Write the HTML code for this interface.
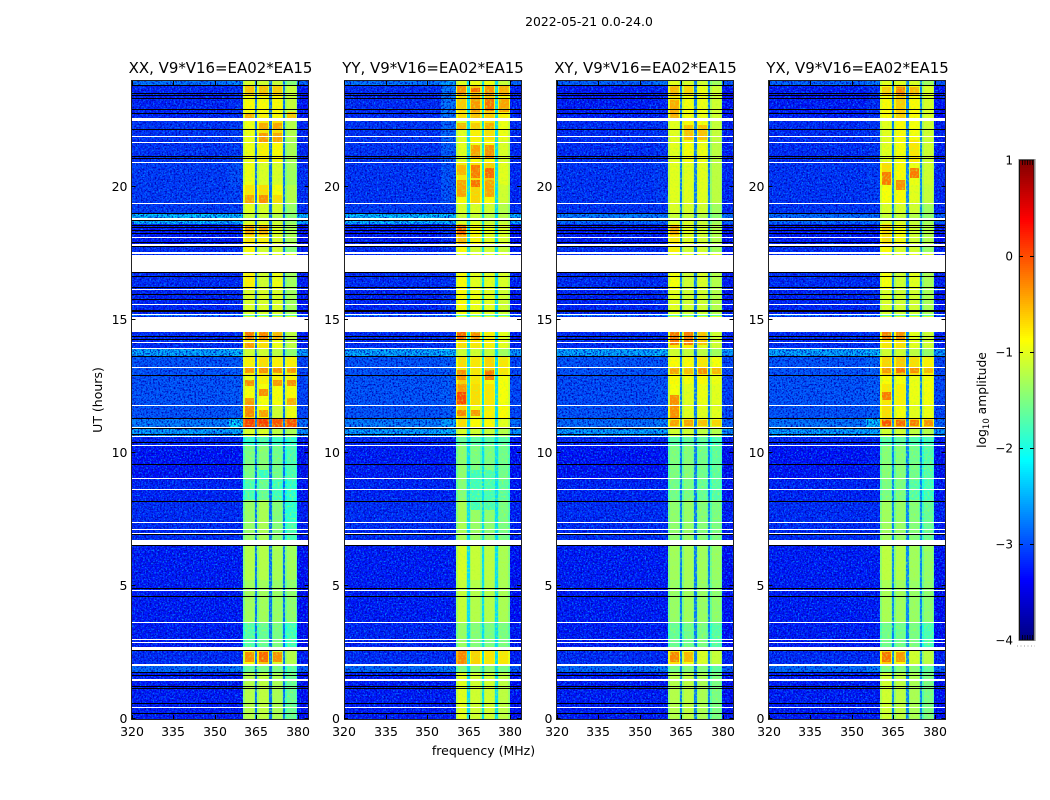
<!DOCTYPE html>
<html lang="en">
<head>
<meta charset="utf-8">
<title>2022-05-21 0.0-24.0</title>
<style>
html,body{margin:0;padding:0;background:#fff;width:1050px;height:800px;overflow:hidden}
svg{display:block}
text{font-family:"DejaVu Sans","Liberation Sans",sans-serif;fill:#000}
</style>
</head>
<body>
<svg id="chart" xmlns="http://www.w3.org/2000/svg" width="1050" height="800" viewBox="0 0 1050 800">
<defs>
<filter id="grain-light" x="0" y="0" width="1" height="1" color-interpolation-filters="sRGB"><feTurbulence type="fractalNoise" baseFrequency="0.62" numOctaves="2" seed="3"/><feColorMatrix type="matrix" values="0 0 0 0 0  0 0 0 0 .5  0 0 0 0 1  3.2 0 0 0 -1.45"/></filter>
<filter id="grain-dark" x="0" y="0" width="1" height="1" color-interpolation-filters="sRGB"><feTurbulence type="fractalNoise" baseFrequency="0.58" numOctaves="2" seed="11"/><feColorMatrix type="matrix" values="0 0 0 0 0  0 0 0 0 0  0 0 0 0 .7  0 3.2 0 0 -1.45"/></filter>
<filter id="grain-band" x="0" y="0" width="1" height="1" color-interpolation-filters="sRGB"><feTurbulence type="fractalNoise" baseFrequency="0.5" numOctaves="2" seed="7"/><feColorMatrix type="matrix" values="0 0 0 0 .7  0 0 0 0 1  0 0 0 0 .2  2 0 0 0 -.95"/></filter>
</defs>
<text x="589" y="26" font-size="12.4" text-anchor="middle">2022-05-21 0.0-24.0</text>
<text x="483.5" y="755" font-size="12.5" text-anchor="middle">frequency (MHz)</text>
<text transform="translate(102 400) rotate(-90)" font-size="12.5" text-anchor="middle">UT (hours)</text>
<text transform="translate(986 400) rotate(-90)" font-size="12.3" text-anchor="middle">log<tspan font-size="8.5" dy="3">10</tspan><tspan dy="-3"> amplitude</tspan></text>
<g id="panels"></g>
<g id="colorbar"></g>
</svg>
<script>
// ---- data ----
const panelNames = ['XX', 'YY', 'XY', 'YX'];
const baselineLabel = 'V9*V16=EA02*EA15';
const freqTicks = [320, 335, 350, 365, 380];
const timeTicks = [0, 5, 10, 15, 20];
const colorbarTicks = [1, 0, -1, -2, -3, -4];
// UT edges of the time segments, bottom to top
const timeEdges = [0,1.77,1.99,2.59,2.71,3.65,5.23,6.54,6.73,8.23,8.98,10.30,10.64,10.98,11.32,11.80,12.59,12.93,13.65,13.91,14.55,15.15,15.23,16.13,16.80,17.48,17.82,18.61,18.72,18.83,18.98,19.40,20.08,20.94,21.77,22.48,23.83,24];
// frequency edges (MHz): background, shoulder, then four bands (edge, centre, edge) split by notches, right edge
const freqEdges = [320,355,360.3,361,364,364.5,365.4,365.9,369.1,369.6,370.5,371,374.1,374.6,375.5,376,379.2,379.8,383.8];
// frequency span (MHz) of the core of each band
const bandStart = [360.8, 365.8, 370.9, 375.9];
const bandEnd = [364.1, 369.2, 374.2, 379.3];
// log10 amplitude per segment: [background, shoulder, A, B, C, D]
const levelsXX = [
[-3.3,-3.3,-1.25,-1.2,-1.3,-1.65],[-2.8,-2.7,-1.65,-1.55,-1.55,-1.75],[-3.2,-3.2,-0.85,-0.55,-1.05,-1.25],[-3.2,-3.2,-1.5,-1.5,-1.5,-1.7],
[-3.3,-3.3,-1.75,-1.65,-1.55,-1.85],[-3.3,-3.3,-1.35,-1.35,-1.4,-1.45],[-3.3,-3.3,-1.25,-1.25,-1.3,-1.35],[-3.3,-3.3,-1.3,-1.3,-1.3,-1.3],
[-3.2,-3.2,-1.4,-1.3,-1.5,-1.8],[-3.25,-3.25,-1.8,-1.65,-1.85,-1.95],[-3.35,-3.35,-1.55,-1.5,-1.6,-1.8],[-3.25,-3.25,-1.95,-1.8,-1.9,-1.95],
[-2.5,-2.4,-1.05,-1.05,-1.2,-1.3],[-2.7,-2.2,0.1,0.1,0,0],[-2.95,-2.9,-0.7,-0.85,-1.1,-0.95],[-2.95,-2.9,-0.9,-0.9,-0.9,-0.85],
[-2.95,-2.9,-0.95,-0.8,-0.8,-0.8],[-2.95,-2.9,-0.8,-0.7,-0.8,-0.8],[-2.45,-2.35,-1.1,-1.1,-1.2,-1.45],[-3.2,-3.2,-0.75,-0.7,-0.95,-1.2],
[-3.2,-3.2,-1,-1,-1,-1],[-2.6,-2.5,-1.8,-1.8,-1.8,-1.8],[-3.25,-3.2,-1.05,-1.05,-1.05,-1.35],[-3.2,-3.2,-0.8,-1.1,-0.95,-1.35],
[-3.2,-3.2,-1,-1,-1,-1],[-3.2,-3.2,-0.85,-1.1,-1.1,-1.5],[-3.3,-3.3,-0.75,-0.8,-1.05,-1.3],[-2.35,-2.35,-1.05,-1.05,-1.15,-1.4],
[-2.35,-2.35,-1.05,-1.05,-1.15,-1.4],[-2.3,-2.3,-1.15,-1.15,-1.25,-1.5],[-3.1,-3.1,-1.0,-1.05,-1.05,-1.4],[-3.1,-3.05,-0.75,-0.7,-0.9,-1.25],
[-3.1,-3.0,-0.95,-1.05,-1.05,-1.35],[-3.15,-3.1,-0.95,-0.8,-0.85,-1.3],[-3.15,-3.1,-0.95,-0.75,-0.7,-1.25],[-3.25,-3.2,-0.85,-0.85,-0.85,-1.15],
[-2.75,-2.65,-1.05,-1.1,-1.15,-1.5]];
const levelsYY = [
[-3.3,-3.3,-1.0,-1.1,-1.1,-1.2],[-2.8,-2.7,-1.55,-1.45,-1.45,-1.55],[-3.2,-3.2,-0.25,-0.65,-0.75,-0.75],[-3.2,-3.2,-1.2,-1.2,-1.2,-1.2],
[-3.25,-3.25,-1.4,-1.5,-1.55,-1.55],[-3.3,-3.3,-1.15,-1.25,-1.25,-1.3],[-3.3,-3.3,-1.05,-1.15,-1.2,-1.3],[-3.3,-3.3,-1.1,-1.1,-1.1,-1.1],
[-3.2,-3.2,-1.3,-1.4,-1.45,-1.55],[-3.25,-3.25,-1.5,-1.6,-1.65,-1.7],[-3.3,-3.3,-1.45,-1.55,-1.55,-1.6],[-3.25,-3.25,-1.65,-1.75,-1.75,-1.75],
[-2.5,-2.4,-1.05,-1.1,-1.15,-1.25],[-2.7,-2.5,-0.7,-0.85,-0.85,-1.0],[-2.95,-2.9,-0.65,-0.95,-0.8,-0.85],[-2.95,-2.9,-0.35,-0.7,-0.75,-0.9],
[-2.95,-2.9,-0.6,-0.75,-0.85,-0.9],[-2.95,-2.9,-0.7,-0.75,-0.65,-0.75],[-2.45,-2.35,-1.1,-1.1,-1.15,-1.35],[-3.2,-3.15,-0.7,-0.75,-0.8,-1.0],
[-3.2,-3.2,-1,-1,-1,-1],[-2.6,-2.5,-1.8,-1.8,-1.8,-1.8],[-3.25,-3.15,-0.85,-0.95,-1.0,-1.1],[-3.2,-3.15,-0.85,-1.0,-1.0,-1.05],
[-3.2,-3.2,-1,-1,-1,-1],[-3.2,-3.15,-0.85,-1.1,-1.1,-1.15],[-3.3,-3.2,-0.5,-0.85,-1.0,-1.05],[-2.35,-2.35,-1.05,-1.05,-1.15,-1.15],
[-2.35,-2.35,-1.05,-1.05,-1.15,-1.15],[-2.3,-2.3,-1.15,-1.15,-1.25,-1.25],[-3.1,-3.05,-1.05,-1.05,-1.1,-1.25],[-3.15,-2.95,-0.85,-0.65,-0.85,-1.1],
[-3.15,-2.95,-0.75,-0.7,-0.6,-1.0],[-3.15,-2.9,-1.0,-0.9,-0.85,-1.05],[-3.15,-2.85,-1.0,-0.8,-0.7,-0.95],[-3.2,-2.75,-0.7,-0.55,-0.6,-0.8],
[-2.75,-2.5,-1.0,-0.95,-0.95,-1.15]];
const levelsXY = [
[-3.3,-3.3,-1.25,-1.2,-1.3,-1.55],[-2.8,-2.7,-1.55,-1.5,-1.5,-1.7],[-3.2,-3.2,-0.7,-0.9,-1.05,-1.15],[-3.2,-3.2,-1.3,-1.3,-1.3,-1.4],
[-3.3,-3.3,-1.65,-1.6,-1.55,-1.75],[-3.3,-3.3,-1.4,-1.35,-1.4,-1.45],[-3.3,-3.3,-1.35,-1.3,-1.35,-1.4],[-3.3,-3.3,-1.3,-1.3,-1.3,-1.3],
[-3.2,-3.2,-1.45,-1.4,-1.5,-1.55],[-3.25,-3.25,-1.6,-1.55,-1.65,-1.75],[-3.35,-3.35,-1.55,-1.5,-1.6,-1.7],[-3.25,-3.25,-1.75,-1.7,-1.75,-1.85],
[-2.5,-2.45,-1.1,-1.1,-1.2,-1.25],[-2.8,-2.7,-0.75,-0.75,-0.9,-0.95],[-2.95,-2.95,-0.7,-1.0,-1.0,-1.0],[-3.0,-2.95,-0.9,-1.0,-0.95,-1.0],
[-3.0,-2.95,-0.85,-0.9,-0.85,-0.95],[-2.95,-2.95,-0.85,-0.85,-0.75,-0.9],[-2.45,-2.35,-1.1,-1.15,-1.2,-1.35],[-3.2,-3.2,-0.75,-0.8,-1.0,-1.1],
[-3.2,-3.2,-1,-1,-1,-1],[-2.6,-2.5,-1.8,-1.8,-1.8,-1.8],[-3.25,-3.2,-1.0,-1.1,-1.1,-1.25],[-3.2,-3.2,-0.9,-1.1,-1.05,-1.25],
[-3.2,-3.2,-1,-1,-1,-1],[-3.2,-3.2,-0.8,-1.1,-1.1,-1.35],[-3.3,-3.3,-0.75,-1.0,-1.1,-1.25],[-2.8,-2.8,-1.05,-1.05,-1.15,-1.35],
[-2.8,-2.8,-1.05,-1.05,-1.15,-1.35],[-2.7,-2.7,-1.15,-1.15,-1.25,-1.45],[-3.15,-3.15,-1.05,-1.05,-1.1,-1.35],[-3.15,-3.1,-1.0,-1.0,-1.0,-1.2],
[-3.15,-3.1,-1.0,-1.0,-1.0,-1.2],[-3.2,-3.15,-1.0,-0.9,-0.95,-1.2],[-3.2,-3.15,-1.0,-0.85,-0.9,-1.15],[-3.3,-3.25,-0.75,-0.9,-0.95,-1.1],
[-2.85,-2.75,-1.0,-1.05,-1.1,-1.35]];
const levelsYX = [
[-3.3,-3.3,-1.1,-1.2,-1.3,-1.55],[-2.8,-2.7,-1.55,-1.5,-1.5,-1.7],[-3.2,-3.2,-0.6,-0.85,-1.1,-1.2],[-3.2,-3.2,-1.3,-1.3,-1.3,-1.4],
[-3.3,-3.3,-1.6,-1.6,-1.55,-1.8],[-3.3,-3.3,-1.3,-1.35,-1.4,-1.45],[-3.3,-3.3,-1.2,-1.25,-1.35,-1.4],[-3.3,-3.3,-1.3,-1.3,-1.3,-1.3],
[-3.2,-3.2,-1.35,-1.4,-1.5,-1.65],[-3.25,-3.25,-1.55,-1.55,-1.75,-1.85],[-3.35,-3.3,-1.5,-1.5,-1.6,-1.75],[-3.25,-3.25,-1.75,-1.7,-1.8,-1.85],
[-2.5,-2.45,-1.1,-1.1,-1.2,-1.25],[-2.75,-2.3,-0.45,-0.5,-0.65,-0.65],[-2.95,-2.9,-0.7,-0.9,-1.0,-0.95],[-2.95,-2.9,-0.75,-0.8,-0.95,-0.9],
[-2.95,-2.9,-0.85,-0.9,-0.95,-0.9],[-2.95,-2.85,-0.65,-0.6,-0.7,-0.8],[-2.45,-2.35,-1.1,-1.1,-1.2,-1.4],[-3.2,-3.15,-0.75,-0.7,-1.0,-1.1],
[-3.2,-3.2,-1,-1,-1,-1],[-2.6,-2.5,-1.8,-1.8,-1.8,-1.8],[-3.25,-3.2,-1.05,-1.1,-1.1,-1.3],[-3.2,-3.2,-0.9,-1.1,-1.0,-1.3],
[-3.2,-3.2,-1,-1,-1,-1],[-3.2,-3.2,-0.85,-1.05,-1.1,-1.4],[-3.3,-3.3,-0.7,-0.9,-1.1,-1.25],[-2.8,-2.8,-1.05,-1.05,-1.15,-1.35],
[-2.8,-2.8,-1.05,-1.05,-1.15,-1.35],[-2.8,-2.8,-1.15,-1.15,-1.25,-1.45],[-3.15,-3.15,-1.05,-1.05,-1.1,-1.35],[-3.15,-3.1,-0.9,-0.85,-1.0,-1.15],
[-3.15,-3.1,-0.7,-0.85,-0.95,-1.1],[-3.2,-3.15,-1.0,-0.9,-0.75,-1.1],[-3.2,-3.15,-1.0,-0.85,-0.9,-1.1],[-3.3,-3.2,-0.85,-0.6,-0.85,-1.05],
[-2.85,-2.75,-1.0,-1.0,-1.05,-1.35]];
// localised bright or faint patches: [band index, UT start, UT end, log10 amplitude]
const patchesXX = [
[0,23.46,23.83,-0.55],[1,23.46,23.83,-0.55],[2,23.46,23.83,-0.6],[0,22.59,22.78,-0.45],[1,22.59,22.78,-0.8],[3,22.59,22.82,-0.55],
[1,22.14,22.41,-0.45],[2,22.14,22.41,-0.4],[1,21.69,22.03,-0.35],[2,21.69,22.03,-0.4],[0,19.40,19.70,-0.4],[1,19.40,19.70,-0.3],[2,19.40,19.70,-0.7],
[0,18.20,18.57,-0.4],[1,18.20,18.57,-0.45],[0,14.25,14.55,-0.2],[1,14.25,14.55,-0.25],[2,14.25,14.55,-0.5],[0,13.95,14.14,-0.35],
[0,13.01,13.20,-0.35],[1,13.01,13.20,-0.3],[2,13.01,13.20,-0.3],[3,13.01,13.20,-0.35],[0,12.52,12.74,-0.3],[2,12.52,12.74,-0.35],[3,12.52,12.74,-0.3],
[1,12.14,12.41,-0.3],[0,11.80,12.07,-0.35],[3,11.80,12.07,-0.45],[0,11.35,11.77,-0.25],[1,11.35,11.62,-0.4],
[0,2.14,2.52,-0.3],[1,2.14,2.52,-0.1],[2,2.14,2.52,-0.3],[3,7.41,8.23,-1.95],[1,8.98,9.36,-1.9]];
const patchesYY = [
[0,23.46,23.83,-0.3],[1,23.57,23.72,-0.1],[1,23.35,23.53,-0.45],[2,23.46,23.83,-0.3],[3,23.46,23.83,-0.45],
[0,22.89,23.35,-0.6],[1,22.82,23.35,-0.35],[2,22.89,23.35,-0.15],[3,22.82,23.35,-0.4],[0,22.14,22.41,-0.5],[1,22.14,22.41,-0.6],[2,22.14,22.41,-0.45],
[1,21.09,21.58,-0.4],[2,21.09,21.58,-0.3],[0,20.45,20.83,-0.5],[1,20.34,20.83,-0.2],[2,20.34,20.71,-0.1],[0,19.62,20.26,-0.4],[1,20.0,20.26,-0.15],[2,19.62,20.26,-0.4],
[0,18.20,18.57,-0.1],[0,14.25,14.55,-0.1],[1,14.25,14.55,-0.3],[0,12.74,13.12,-0.3],[2,12.74,13.12,-0.2],[0,11.84,12.29,0.05],[0,11.39,11.62,-0.25],[1,11.39,11.62,-0.35],
[1,7.86,9.36,-1.85],[2,7.86,9.36,-1.8]];
const patchesXY = [
[0,23.46,23.83,-0.5],[1,23.46,23.83,-0.65],[0,22.52,23.27,-0.45],[1,21.77,22.33,-0.55],[2,21.77,22.33,-0.55],[0,18.20,18.53,-0.45],
[0,14.06,14.55,-0.15],[1,14.06,14.55,-0.2],[2,14.06,14.55,-0.55],[0,12.97,13.20,-0.4],[1,12.97,13.20,-0.55],[2,12.97,13.20,-0.3],[3,12.97,13.20,-0.5],
[0,11.32,12.18,-0.3],[0,11.02,11.24,-0.4],[1,11.02,11.24,-0.4],[2,11.02,11.24,-0.55],[3,11.02,11.24,-0.65],[0,2.14,2.52,-0.25],[1,2.14,2.52,-0.5]];
const patchesYX = [
[1,23.46,23.76,-0.25],[0,23.46,23.76,-0.6],[2,23.46,23.76,-0.5],[2,20.34,20.71,-0.2],[0,20.08,20.56,-0.2],[1,19.89,20.26,-0.3],
[0,14.25,14.55,-0.2],[1,14.25,14.55,-0.3],[0,13.01,13.20,-0.35],[1,13.01,13.20,-0.15],[2,13.01,13.20,-0.3],[3,13.01,13.20,-0.5],[0,12.0,12.3,-0.2],
[0,11.02,11.24,0.0],[1,11.02,11.24,-0.1],[2,11.02,11.24,-0.2],[3,11.02,11.24,-0.3],[0,2.14,2.52,-0.15],[1,2.14,2.52,-0.35]];
const notchLevels = [-2.85, -2.3, -2.8, -2.75];
// flagged (no data) integrations: UT centre and duration in hours
const blankTimes = [22.55,21.92,21.69,20.93,19.39,18.81,18.11,17.82,17.53,17.125,16.15,15.59,15.23,14.84,14.17,13.94,13.22,11.79,10.97,10.64,10.29,9.05,8.64,7.39,7.12,6.98,6.635,4.85,3.64,3.00,2.88,2.65,2.02,1.475,0.44];
const blankDurations = [.1,.04,.04,.04,.04,.05,.04,.08,.04,.65,.04,.04,.04,.56,.04,.04,.04,.04,.05,.04,.04,.04,.04,.04,.04,.04,.19,.04,.04,.04,.04,.11,.09,.06,.04];
// integrations with zero amplitude, drawn black
const zeroTimes = [23.82,23.53,23.46,23.35,22.94,22.77,22.17,21.17,21.09,19.03,18.76,18.58,18.48,18.37,18.26,17.91,17.76,16.79,16.63,16.23,15.98,15.79,15.38,15.32,14.40,14.27,13.65,12.92,11.30,10.92,10.69,10.40,9.58,8.17,6.94,6.53,4.91,4.61,2.58,1.76,1.63,1.21,1.15,0.59,0.21];

// ---- layout and scales ----
const SVGNS = 'http://www.w3.org/2000/svg';
const panelLefts = [131.5, 344, 556.5, 768.5];
const panelWidth = 177, plotTop = 81, plotBottom = 719;
const panelLevels = [levelsXX, levelsYY, levelsXY, levelsYX];
const panelPatches = [patchesXX, patchesYY, patchesXY, patchesYX];
const bandEdgeDrop = 0.22;
const xScale = (mhz, left) => left + (mhz - 320) / 63.8 * panelWidth;
const yScale = ut => plotBottom - ut / 24 * (plotBottom - plotTop);
function jet(v) {
  const t = Math.max(0, Math.min(1, (v + 4) / 5));
  const ch = c => Math.round(255 * Math.max(0, Math.min(1, 1.5 - Math.abs(4 * t - c))));
  return 'rgb(' + ch(3) + ',' + ch(2) + ',' + ch(1) + ')';
}
function make(tag, attrs, parent) {
  const el = document.createElementNS(SVGNS, tag);
  for (const k in attrs) el.setAttribute(k, attrs[k]);
  parent.appendChild(el);
  return el;
}
const panelsRoot = document.getElementById('panels');

panelNames.forEach((name, p) => {
  const left = panelLefts[p];
  const g = make('g', {}, panelsRoot);
  
  
  const cells = make('g', {'shape-rendering': 'crispEdges'}, g);
  
  
  panelLevels[p].forEach((row, r) => {
    const n = notchLevels[p], d = bandEdgeDrop;
    const colValues = [row[0], row[1],
      row[2] - d, row[2], row[2] - d, n,
      row[3] - d, row[3], row[3] - d, n,
      row[4] - d, row[4], row[4] - d, n,
      row[5] - d, row[5], row[5] - d,
      row[0] - 0.08];
    const y0 = Math.round(yScale(timeEdges[r + 1])), y1 = Math.round(yScale(timeEdges[r]));
    colValues.forEach((v, c) => {
      const x0 = Math.round(xScale(freqEdges[c], left)), x1 = Math.round(xScale(freqEdges[c + 1], left));
      const cell = make('rect', {x: x0, y: y0, width: x1 - x0, height: y1 - y0, fill: jet(v)}, cells);
      
      
    });
  });
  panelPatches[p].forEach(patch => {
    const x0 = Math.round(xScale(bandStart[patch[0]], left)), x1 = Math.round(xScale(bandEnd[patch[0]], left));
    const y0 = Math.round(yScale(patch[2])), y1 = Math.round(yScale(patch[1]));
    const cell = make('rect', {x: x0, y: y0, width: x1 - x0, height: y1 - y0, fill: jet(patch[3])}, cells);
    
    
  });
  // fine-grain receiver noise texture
  const noiseRegions = [[320, 360.3, 'grain-light'], [320, 360.3, 'grain-dark'], [379.8, 383.8, 'grain-light'], [379.8, 383.8, 'grain-dark'], [360.3, 379.8, 'grain-band']];
  noiseRegions.forEach(reg => {
    const x0 = Math.round(xScale(reg[0], left)), x1 = Math.round(xScale(reg[1], left));
    const noise = make('rect', {x: x0, y: plotTop, width: x1 - x0, height: plotBottom - plotTop, filter: 'url(#' + reg[2] + ')'}, g);
    
    
  });
  // flagged rows
  const flags = make('g', {'shape-rendering': 'crispEdges'}, g);
  zeroTimes.forEach(ut => {
    const line = make('rect', {x: left, y: Math.round(yScale(ut) - 0.5), width: panelWidth, height: 1, fill: '#000'}, flags);
    
    
  });
  blankTimes.forEach((ut, i) => {
    const top = Math.round(yScale(ut + blankDurations[i] / 2));
    const bottom = Math.max(top + 1, Math.round(yScale(ut - blankDurations[i] / 2)));
    const line = make('rect', {x: left, y: top, width: panelWidth, height: bottom - top, fill: '#fff'}, flags);
    
    
  });
  // frame
  const frame = make('rect', {x: Math.floor(left) + 0.5, y: plotTop - 0.5, width: panelWidth, height: plotBottom - plotTop + 1, fill: 'none', stroke: '#222', 'stroke-width': 1}, g);
  
  
  // ticks
  freqTicks.forEach(f => {
    const x = Math.round(xScale(f, left)) + 0.5;
    const tb = make('line', {x1: x, x2: x, y1: plotBottom, y2: plotBottom - 4, stroke: '#000'}, g);
    
    
    const tt = make('line', {x1: x, x2: x, y1: plotTop, y2: plotTop + 4, stroke: '#000'}, g);
    
    
    const lab = make('text', {x: x - 0.5, y: 736, 'font-size': 12.5, 'text-anchor': 'middle'}, g);
    lab.textContent = f;
    
    
  });
  timeTicks.forEach(t => {
    const y = Math.round(yScale(t)) - 0.5;
    const tl = make('line', {x1: left, x2: left + 4, y1: y, y2: y, stroke: '#000'}, g);
    
    
    const tr = make('line', {x1: left + panelWidth - 4, x2: left + panelWidth, y1: y, y2: y, stroke: '#000'}, g);
    
    
    const lab = make('text', {x: left - 4, y: y + 4.5, 'font-size': 12.5, 'text-anchor': 'end'}, g);
    lab.textContent = t;
    
    
  });
  const title = make('text', {x: left + panelWidth / 2 + 0.5, y: 73, 'font-size': 14.95, 'text-anchor': 'middle'}, g);
  title.textContent = name + ', ' + baselineLabel;
  
  
});

// ---- colorbar ----
const cb = document.getElementById('colorbar');
const cbLeft = 1019, cbWidth = 15, cbTop = 160, cbBottom = 640;
const cbScale = v => cbBottom - (v + 4) / 5 * (cbBottom - cbTop);
const cbStrip = make('g', {'shape-rendering': 'crispEdges'}, cb);


for (let py = cbTop; py < cbBottom; py += 2) {
  const v = -4 + (cbBottom - py - 1) / (cbBottom - cbTop) * 5;
  const seg = make('rect', {x: cbLeft, y: py, width: cbWidth, height: 2, fill: jet(v)}, cbStrip);
  
  
}
const cbFrameOuter = make('rect', {x: cbLeft - 0.5, y: cbTop - 0.5, width: cbWidth + 2, height: cbBottom - cbTop + 1, fill: 'none', stroke: '#bbb', 'stroke-width': 1}, cb);


const cbFrame = make('rect', {x: cbLeft + 0.5, y: cbTop, width: cbWidth - 0.5, height: cbBottom - cbTop, fill: 'none', stroke: '#111', 'stroke-width': 1}, cb);


colorbarTicks.forEach(v => {
  const y = Math.round(cbScale(v)) + 0.5;
  if (v !== 1 && v !== -4) {
    const a = make('line', {x1: cbLeft, x2: cbLeft + 4, y1: y, y2: y, stroke: '#000'}, cb);
    
    
    const b = make('line', {x1: cbLeft + cbWidth - 4, x2: cbLeft + cbWidth, y1: y, y2: y, stroke: '#000'}, cb);
    
    
  }
  const lab = make('text', {x: 1013, y: y + 4, 'font-size': 12, 'text-anchor': 'end'}, cb);
  lab.textContent = v < 0 ? '\u2212' + Math.abs(v) : v;
  
  
});
for (let i = 0; i < 5; i++) {
  const x = cbLeft + 3.5 + i * 2.5;
  const topMark = make('line', {x1: x, x2: x, y1: cbTop, y2: cbTop + 5, stroke: '#000', 'stroke-width': .8}, cb);
  
  
  const botMark = make('line', {x1: x, x2: x, y1: cbBottom, y2: cbBottom - 5, stroke: '#000', 'stroke-width': .8}, cb);
  
  
}
const dots = make('line', {x1: 1017, x2: 1035, y1: 646, y2: 646, stroke: '#999', 'stroke-width': 1, 'stroke-dasharray': '1 2.5'}, cb);


</script>
</body>
</html>
